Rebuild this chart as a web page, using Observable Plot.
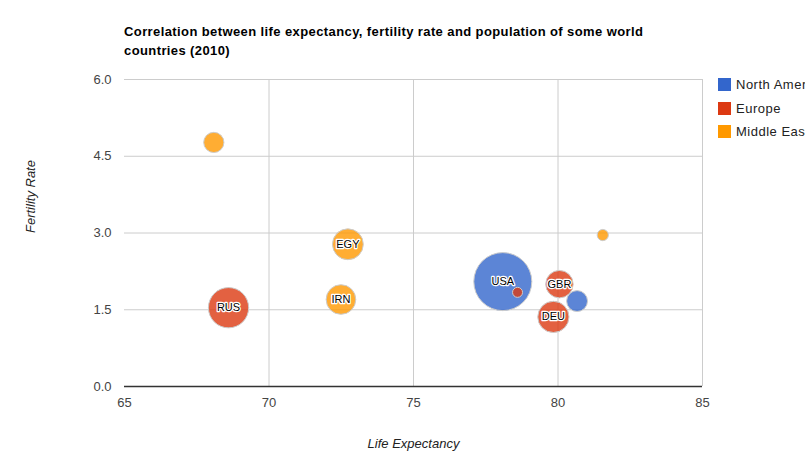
<!DOCTYPE html>
<html>
<head>
<meta charset="utf-8">
<script src="https://cdn.jsdelivr.net/npm/d3@7"></script>
<script src="https://cdn.jsdelivr.net/npm/@observablehq/plot@0.6"></script>
<style>
  html, body { margin: 0; padding: 0; background: #fff; overflow: hidden; }
  #wrap { position: relative; width: 805px; height: 471px; overflow: hidden; font-family: "Liberation Sans", Arial, sans-serif; }
  #title { position: absolute; left: 124px; top: 22px; font-size: 13px; letter-spacing: 0.4px; font-weight: bold; color: #000; line-height: 19px; width: 540px; }
  #legend { position: absolute; left: 718px; top: 73px; font-size: 13px; letter-spacing: 0.5px; color: #222; white-space: nowrap; }
  .li { display: flex; align-items: center; height: 23.5px; }
  .sw { width: 13px; height: 13px; margin-right: 5px; flex: none; }
  svg { position: absolute; left: 0; top: 0; }
</style>
</head>
<body>
<div id="wrap">
  <div id="title">Correlation between life expectancy, fertility rate and population of some world countries (2010)</div>
  <div id="legend"></div>
</div>
<script>
const ids = ["CAN","DEU","DNK","EGY","GBR","IRN","IRQ","ISR","RUS","USA"];
const lifeExpectancy = [80.66, 79.84, 78.6, 72.73, 80.05, 72.49, 68.09, 81.55, 68.6, 78.09];
const fertilityRate = [1.67, 1.36, 1.84, 2.78, 2, 1.7, 4.77, 2.96, 1.54, 2.05];
const regions = ["North America","Europe","Europe","Middle East","Europe","Middle East","Middle East","Middle East","Europe","North America"];
const population = [33739900, 81902307, 5523095, 79716203, 61801570, 73137148, 31090763, 7485600, 141850000, 307007000];
const regionNames = ["North America","Europe","Middle East"];
const regionColors = ["#3366cc","#dc3912","#ff9900"];
const xTicks = [65, 70, 75, 80, 85];
const yTicks = [0, 1.5, 3, 4.5, 6];

const data = ids.map((id, i) => ({
  id, life: lifeExpectancy[i], fert: fertilityRate[i], region: regions[i], pop: population[i]
})).sort((a, b) => b.pop - a.pop);

const font = "'Liberation Sans', Arial, sans-serif";

const chart = Plot.plot({
  width: 805,
  height: 471,
  marginLeft: 124,
  marginRight: 103,
  marginTop: 79,
  marginBottom: 85,
  style: { fontFamily: font, fontSize: "13px", background: "transparent" },
  x: { domain: [65, 85] },
  y: { domain: [0, 6] },
  r: { type: "sqrt", domain: [d3.min(population), d3.max(population)], range: [5, 29] },
  color: { domain: regionNames, range: regionColors },
  marks: [
    Plot.gridY(yTicks.filter(d => d > 0), { stroke: "#cccccc", strokeOpacity: 1 }),
    Plot.gridX(xTicks.filter(d => d > 65), { stroke: "#cccccc", strokeOpacity: 1 }),
    Plot.ruleY([0], { stroke: "#333333", strokeWidth: 1.5 }),
    Plot.axisY(yTicks, { tickSize: 0, tickPadding: 13, tickFormat: d3.format(".1f"), label: null, fill: "#444", fontSize: 13 }),
    Plot.axisX(xTicks, { tickSize: 0, tickPadding: 11, label: null, fill: "#444", fontSize: 13 }),
    Plot.dot(data, { x: "life", y: "fert", r: "pop", fill: "region", fillOpacity: 0.8, stroke: "#cccccc", strokeWidth: 1 }),
    Plot.text(data.filter(d => d.pop > 40e6), { x: "life", y: "fert", text: "id", fill: "#000", stroke: "#fff", strokeWidth: 2.5, fontSize: 11, paintOrder: "stroke" }),
    Plot.text(["Life Expectancy"], { frameAnchor: "bottom", dy: 61, fontStyle: "italic", fill: "#222", fontSize: 13 }),
    Plot.text(["Fertility Rate"], { frameAnchor: "left", dx: -94, rotate: -90, fontStyle: "italic", fill: "#222", fontSize: 13 })
  ]
});
document.getElementById("wrap").prepend(chart);

const legend = document.getElementById("legend");
regionNames.forEach((n, i) => {
  const row = document.createElement("div");
  row.className = "li";
  const sw = document.createElement("span");
  sw.className = "sw";
  sw.style.background = regionColors[i];
  const t = document.createElement("span");
  t.textContent = n;
  row.appendChild(sw); row.appendChild(t);
  legend.appendChild(row);
});
</script>
</body>
</html>
